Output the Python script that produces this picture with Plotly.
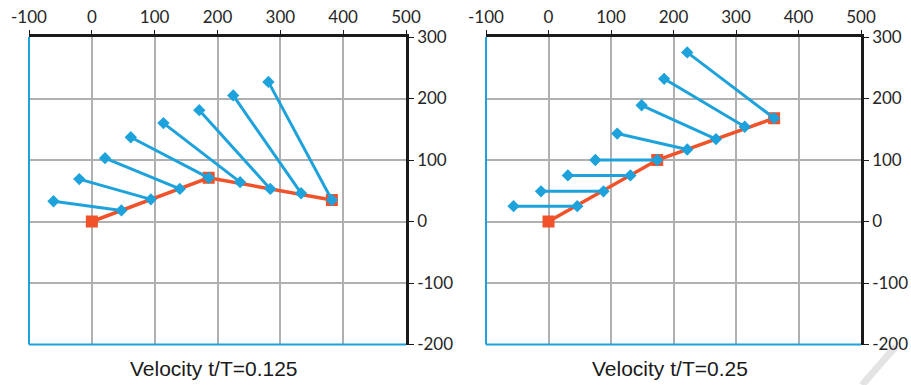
import plotly.graph_objects as go

# Velocity vectors along the path, t/T = 0.125
base_x_a = [47, 94, 140, 186, 236, 284, 333, 382]
base_y_a = [18, 36, 53, 71, 64, 53, 46, 35]
tip_x_a = [-61, -20, 21, 62, 114, 171, 225, 281]
tip_y_a = [33, 69, 103, 137, 160, 181, 205, 227]
path_x_a = [0, 186, 382]
path_y_a = [0, 71, 35]

# Velocity vectors along the path, t/T = 0.25
base_x_b = [46, 88, 131, 174, 222, 268, 314, 361]
base_y_b = [25, 49, 75, 100, 117, 134, 154, 168]
tip_x_b = [-56, -12, 31, 75, 110, 149, 185, 222]
tip_y_b = [25, 49, 75, 100, 143, 189, 232, 275]
path_x_b = [0, 174, 361]
path_y_b = [0, 100, 168]

titles = ["Velocity t/T=0.125", "Velocity t/T=0.25"]
x_ticks = [-100, 0, 100, 200, 300, 400, 500]
y_ticks = [-200, -100, 0, 100, 200, 300]

BLUE = "#1DA2DC"
ORANGE = "#F0522A"
GRID = "#B0B0B0"

W, H = 911, 385
panels = [
    dict(x0=29, x1=406, bx=base_x_a, by=base_y_a, tx=tip_x_a, ty=tip_y_a,
         px=path_x_a, py=path_y_a, tcx=213.5),
    dict(x0=486, x1=861, bx=base_x_b, by=base_y_b, tx=tip_x_b, ty=tip_y_b,
         px=path_x_b, py=path_y_b, tcx=670),
]
top_px, bot_px = 37, 344.5

fig = go.Figure()
layout = dict(
    width=W, height=H, margin=dict(l=0, r=0, t=0, b=0),
    paper_bgcolor="white", plot_bgcolor="white", showlegend=False,
    shapes=[], annotations=[],
)

for i, p in enumerate(panels):
    sfx = "" if i == 0 else str(i + 1)
    xa, ya = "x" + sfx, "y" + sfx

    fig.add_trace(go.Scatter(
        x=p["px"], y=p["py"], xaxis=xa, yaxis=ya, mode="lines+markers",
        line=dict(color=ORANGE, width=3.5),
        marker=dict(symbol="square", size=12, color=ORANGE),
        hoverinfo="skip"))

    seg_x, seg_y = [], []
    for bx, by, tx, ty in zip(p["bx"], p["by"], p["tx"], p["ty"]):
        seg_x += [tx, bx, None]
        seg_y += [ty, by, None]
    fig.add_trace(go.Scatter(
        x=seg_x, y=seg_y, xaxis=xa, yaxis=ya, mode="lines+markers",
        line=dict(color=BLUE, width=3),
        marker=dict(symbol="diamond", size=9.5, color=BLUE),
        hoverinfo="skip"))

    layout["xaxis" + sfx] = dict(
        domain=[p["x0"] / W, p["x1"] / W], anchor=ya, side="top",
        range=[-100, 500], tickvals=x_ticks, ticktext=[str(v) for v in x_ticks],
        showgrid=True, gridcolor=GRID, gridwidth=1.5, zeroline=False,
        showline=True, linecolor="#1A1A1A", linewidth=2.5,
        ticks="outside", ticklen=4, tickcolor="#1A1A1A", tickwidth=1,
        tickfont=dict(family="Lato", size=17, color="#262626"),
        automargin=False, fixedrange=True)
    layout["yaxis" + sfx] = dict(
        domain=[1 - bot_px / H, 1 - top_px / H], anchor=xa, side="right",
        range=[-200, 300], tickvals=y_ticks, ticktext=[str(v) for v in y_ticks],
        showgrid=True, gridcolor=GRID, gridwidth=1.5, zeroline=False,
        showline=True, linecolor="#1A1A1A", linewidth=2.5,
        ticks="outside", ticklen=5, tickcolor="#1A1A1A", tickwidth=1,
        tickfont=dict(family="Lato", size=17, color="#262626"),
        automargin=False, fixedrange=True)

    # blue left and bottom borders of the plot frame
    layout["shapes"].append(dict(
        type="line", xref=xa + " domain", yref=ya + " domain",
        x0=0, x1=0, y0=0, y1=1, line=dict(color=BLUE, width=2)))
    layout["shapes"].append(dict(
        type="line", xref=xa + " domain", yref=ya + " domain",
        x0=0, x1=1, y0=0, y1=0, line=dict(color=BLUE, width=2)))

    layout["annotations"].append(dict(
        text=titles[i], xref="paper", yref="paper",
        x=p["tcx"] / W, y=1 - 368 / H, xanchor="center", yanchor="middle",
        showarrow=False,
        font=dict(family="Liberation Sans", size=21, color="#1A1A1A")))

# faint diagonal stroke in the lower right corner
layout["shapes"].append(dict(
    type="line", xref="paper", yref="paper",
    x0=862 / W, y0=0, x1=896 / W, y1=1 - 346 / H,
    line=dict(color="#E4E4E4", width=7), layer="below"))

fig.update_layout(**layout)
fig.write_html("out.html")
